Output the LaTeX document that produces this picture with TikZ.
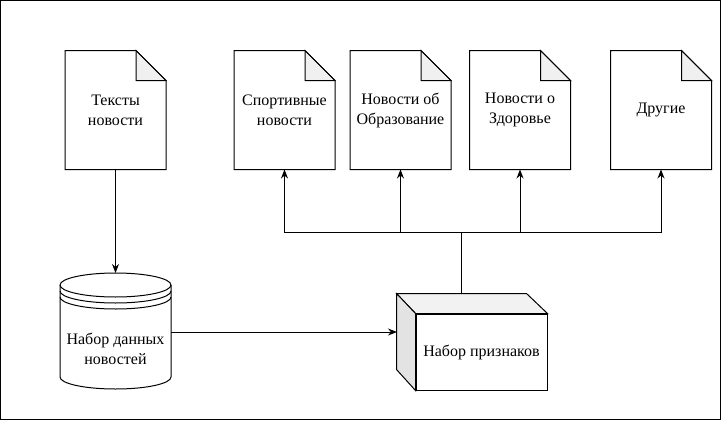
\documentclass[tikz,border=0pt]{standalone}
\usepackage{fontspec}
\setmainfont{Liberation Serif}
\usetikzlibrary{arrows.meta,calc}
\begin{document}
\begin{tikzpicture}[x=1pt,y=-1pt,
  line width=1pt,
  lbl/.style={font=\fontsize{16}{20}\selectfont, align=center, inner sep=0pt},
  docnode/.style={lbl, minimum width=100pt, minimum height=118pt},
  arr/.style={-{Stealth[length=9pt,width=7pt]}},
  foldfill/.style={fill=black!6},
  cubetop/.style={fill=black!5},
  cubeside/.style={fill=black!11},
]
\useasboundingbox (0,0) rectangle (721,421);
\draw[line width=1.3pt] (0.7,0.7) rectangle (720.2,419.4);

% documents
\node[docnode] (d1) at (115.5,110) {Тексты\\новости};
\node[docnode] (d2) at (284.5,110) {Спортивные\\новости};
\node[docnode] (d3) at (400.5,110) {Новости об\\Образование};
\node[docnode] (d4) at (520,110) {Новости о\\Здоровье};
\node[docnode] (d5) at (661,110) {Другие};
\foreach \n in {d1,d2,d3,d4,d5}{
  \draw[foldfill] ($(\n.north east)+(-30,0)$) -- ($(\n.north east)+(-30,30)$) -- ($(\n.north east)+(0,30)$) -- cycle;
  \draw (\n.north west) -- ($(\n.north east)+(-30,0)$) -- ($(\n.north east)+(0,30)$) -- (\n.south east) -- (\n.south west) -- cycle;
}

% data store
\draw[fill=white] (60,285) arc[start angle=180,end angle=360,x radius=55.5,y radius=12]
  -- (171,377) arc[start angle=0,end angle=180,x radius=55.5,y radius=12] -- cycle;
\draw (60,285) arc[start angle=180,end angle=0,x radius=55.5,y radius=12];
\draw (60,291) arc[start angle=180,end angle=0,x radius=55.5,y radius=12];
\draw (60,297) arc[start angle=180,end angle=0,x radius=55.5,y radius=12];
\node[lbl, minimum width=111pt, minimum height=80pt] (ds) at (115.5,349) {Набор данных\\новостей};
\coordinate (dstop) at (115.5,273);
\coordinate (dsright) at (171,332);

% cube
\node[lbl, draw, minimum width=131pt, minimum height=76pt] (feat) at (481.5,352) {Набор признаков};
\draw[cubetop] (feat.north west) -- ++(-19,-20) -- ++(130,0) -- (feat.north east) -- cycle;
\draw[cubeside] (feat.north west) -- ++(-19,-20) -- ++(0,76) -- (feat.south west) -- cycle;
\coordinate (featleft) at (397,332);
\coordinate (feattop) at (461,294);
\coordinate (junc) at (461,232);

% connectors
\draw[arr] (d1.south) -- (dstop);
\draw[arr] (dsright) -- (featleft);
\draw (feattop) -- (junc);
\draw[arr] (junc) -| (d2.south);
\draw[arr] (junc) -| (d3.south);
\draw[arr] (junc) -| (d4.south);
\draw[arr] (junc) -| (d5.south);
\end{tikzpicture}
\end{document}
